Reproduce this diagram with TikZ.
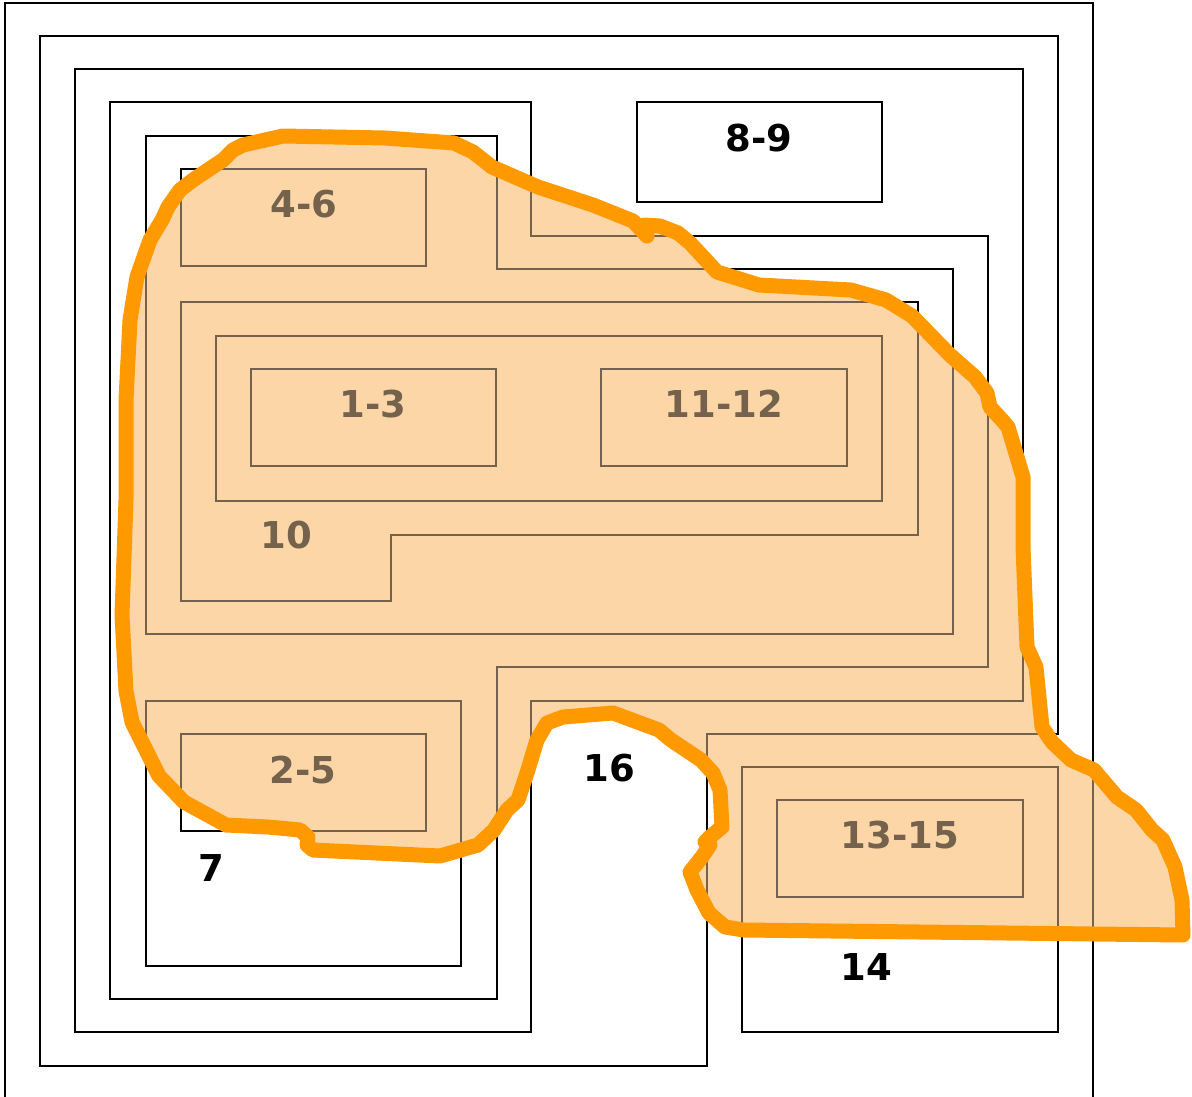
\documentclass[tikz,border=0pt]{standalone}
\usepackage{fontspec}
\setmainfont{DejaVu Sans}

\definecolor{blobfill}{RGB}{253,214,168}
\definecolor{blobline}{RGB}{255,153,0}

% Outline of the highlighted area (pixel grid, y downwards)
\newcommand{\blobpath}{(283,136) -- (385,138) -- (454,143) -- (473,152) -- (492,167) -- (538,187)
  -- (593,205) -- (633,221) -- (647,236) -- (644,225) -- (660,226) -- (678,233) -- (690,243)
  -- (717,272) -- (759,285) -- (851,290) -- (886,300) -- (912,316) -- (950,355) -- (975,377)
  -- (987,393) -- (990,407) -- (1002,420) -- (1008,427) -- (1023,477) -- (1023,547)
  -- (1027,647) -- (1036,667) -- (1042,727) -- (1052,742) -- (1071,760) -- (1094,770)
  -- (1117,797) -- (1136,810) -- (1152,830) -- (1163,840) -- (1175,867) -- (1182,900)
  -- (1183,935) -- (744,930) -- (725,927) -- (709,913) -- (697,890) -- (690,872) -- (702,857)
  -- (710,845) -- (705,842) -- (710,837) -- (722,827) -- (720,790) -- (713,773) -- (701,760)
  -- (671,740) -- (659,730) -- (613,713) -- (563,717) -- (547,723) -- (537,740) -- (527,773)
  -- (518,800) -- (507,810) -- (494,830) -- (478,845) -- (440,856) -- (313,850) -- (307,845)
  -- (308,837) -- (300,830) -- (268,827) -- (226,825) -- (184,802) -- (159,776) -- (151,760)
  -- (132,722) -- (126,691) -- (122,615) -- (126,500) -- (126,400) -- (130,320) -- (137,277)
  -- (150,240) -- (162,220) -- (168,207) -- (180,190) -- (193,180) -- (223,160) -- (233,150)
  -- (243,145) -- cycle}

\begin{document}
\begin{tikzpicture}[
    x=1pt, y=-1pt,
    % Styles
    wall/.style={ % Region borders
        draw=black,
        line width=1.8pt
    },
    tag/.style={ % Region numbers
        font=\bfseries\fontsize{37}{40}\selectfont,
        inner sep=0pt
    },
    blob/.style={ % Highlighted area, underneath
        fill=blobfill
    },
    blobtint/.style={ % Highlighted area, tint over borders and numbers
        fill=blobfill,
        fill opacity=0.46
    },
    blobedge/.style={ % Highlighted area, outline
        draw=blobline,
        line width=15pt,
        line join=round,
        line cap=round
    }
]
    \useasboundingbox (0,0) rectangle (1192,1097);

    % Highlighted area
    \fill[blob] \blobpath;

    % Nested regions
    \draw[wall] (5,1110) -- (5,3) -- (1093,3) -- (1093,1110);
    \draw[wall] (40,36) -- (1058,36) -- (1058,734) -- (707,734) -- (707,1066) -- (40,1066) -- cycle;
    \draw[wall] (75,69) -- (1023,69) -- (1023,701) -- (531,701) -- (531,1032) -- (75,1032) -- cycle;
    \draw[wall] (110,102) -- (531,102) -- (531,236) -- (988,236) -- (988,667) -- (497,667)
        -- (497,999) -- (110,999) -- cycle;
    \draw[wall] (146,136) -- (497,136) -- (497,269) -- (953,269) -- (953,634) -- (146,634) -- cycle;
    \draw[wall] (181,302) -- (918,302) -- (918,535) -- (391,535) -- (391,601) -- (181,601) -- cycle;
    \draw[wall] (216,336) rectangle (882,501);

    % Boxes
    \draw[wall] (637,102) rectangle (882,202);
    \draw[wall] (181,169) rectangle (426,266);
    \draw[wall] (251,369) rectangle (496,466);
    \draw[wall] (601,369) rectangle (847,466);
    \draw[wall] (146,701) rectangle (461,966);
    \draw[wall] (181,734) rectangle (426,831);
    \draw[wall] (742,767) rectangle (1058,1032);
    \draw[wall] (777,800) rectangle (1023,897);

    % Numbers
    \node[tag] (n89) at (759,138) {8-9};
    \node[tag] (n46) at (304,204) {4-6};
    \node[tag] (n13) at (373,404) {1-3};
    \node[tag] (n1112) at (724,404) {11-12};
    \node[tag] (n10) at (286,535) {10};
    \node[tag] (n25) at (303,770) {2-5};
    \node[tag] (n7) at (211,868) {7};
    \node[tag] (n16) at (609,768) {16};
    \node[tag] (n1315) at (900,835) {13-15};
    \node[tag] (n14) at (866,967) {14};

    % Tint and outline of the highlighted area
    \fill[blobtint] \blobpath;
    \draw[blobedge] \blobpath;
\end{tikzpicture}
\end{document}
